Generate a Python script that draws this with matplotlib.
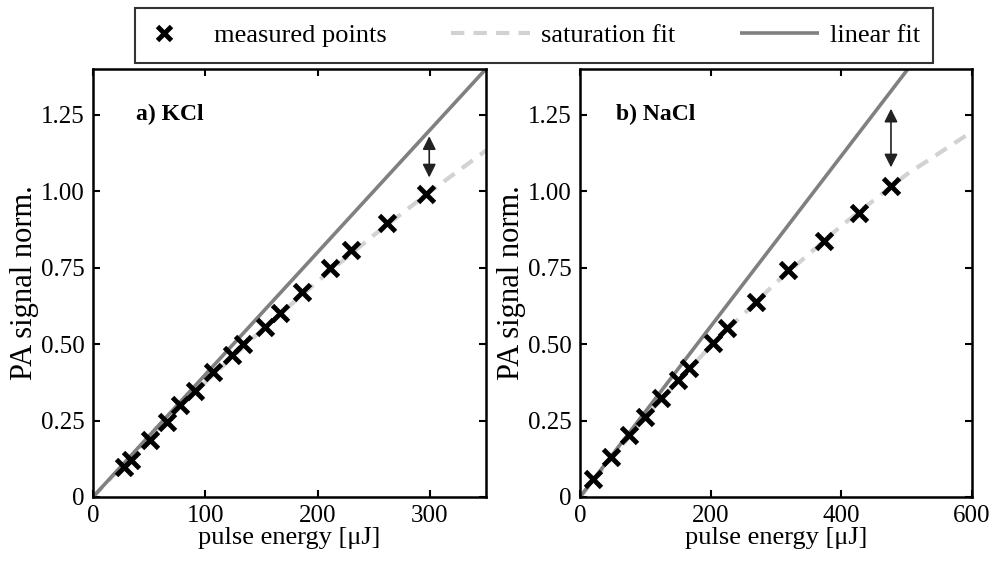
import numpy as np
import matplotlib
matplotlib.use('Agg')
import matplotlib.pyplot as plt
from matplotlib.patches import Rectangle

plt.rcParams['font.family'] = ['Liberation Serif', 'DejaVu Serif']

# KCl measured points
kcl_e = [27.7, 34.3, 50.7, 65.6, 77.5, 90.9, 107.2, 123.7, 134.0, 153.4, 166.2,
         186.2, 211.5, 229.4, 262.2, 297.0]
kcl_s = [0.098, 0.120, 0.186, 0.246, 0.300, 0.348, 0.410, 0.465, 0.500, 0.557, 0.601,
         0.669, 0.749, 0.807, 0.896, 0.991]
# KCl fits
kcl_lin_e = [0, 350]
kcl_lin_s = [0, 1.40]
kcl_sat_e = [0, 50, 100, 150, 200, 250, 300, 350]
kcl_sat_s = [0, 0.194, 0.375, 0.545, 0.705, 0.856, 0.998, 1.133]
kcl_arrow = (299.5, 1.18, 1.045)

# NaCl measured points
nacl_e = [19.3, 47.5, 75.6, 100.1, 124.1, 149.6, 167.5, 203.3, 225.3, 270.0,
          318.1, 372.9, 426.6, 476.2]
nacl_s = [0.060, 0.131, 0.202, 0.262, 0.323, 0.383, 0.421, 0.505, 0.552, 0.637,
          0.743, 0.836, 0.929, 1.016]
# NaCl fits
nacl_lin_e = [0, 502]
nacl_lin_s = [0, 1.40]
nacl_sat_e = [0, 100, 200, 300, 400, 500, 600]
nacl_sat_s = [0, 0.262, 0.494, 0.701, 0.887, 1.055, 1.195]
nacl_arrow = (476.0, 1.27, 1.078)

yticks = [0, 0.25, 0.5, 0.75, 1.0, 1.25]
yticklabels = ['0', '0.25', '0.50', '0.75', '1.00', '1.25']

fig = plt.figure(figsize=(10.04, 5.62), dpi=100)
ax1 = fig.add_axes([0.0926, 0.1157, 0.3914, 0.7616])
ax2 = fig.add_axes([0.5777, 0.1157, 0.3904, 0.7616])


def panel(ax, e, s, lin_e, lin_s, sat_e, sat_s, arrow, xmax, xticks, label, lx):
    ax.plot(lin_e, lin_s, color='#808080', lw=2.6, solid_capstyle='butt', zorder=2,
            label='linear fit')
    sat, = ax.plot(sat_e, sat_s, color='#d2d2d2', lw=3.0, zorder=1, label='saturation fit')
    sat.set_dashes((3.2, 2.2))
    ax.plot(e, s, 'x', color='black', ms=12, mew=3.5, zorder=3, label='measured points')
    ax.annotate('', xy=(arrow[0], arrow[2]), xytext=(arrow[0], arrow[1]),
                arrowprops=dict(arrowstyle='<|-|>', color='#222222', lw=1.2,
                                mutation_scale=20, shrinkA=0, shrinkB=0))
    ax.text(lx, 1.25, label, fontsize=17, fontweight='bold', va='center')
    ax.set_xlim(0, xmax)
    ax.set_ylim(0, 1.4)
    ax.set_xticks(xticks)
    ax.set_yticks(yticks)
    ax.set_yticklabels(yticklabels)
    ax.tick_params(direction='in', length=5, width=1.5, top=True, right=True,
                   labelsize=18, pad=6)
    for sp in ax.spines.values():
        sp.set_linewidth(1.8)
    ax.set_xlabel('pulse energy [\u03bcJ]', fontsize=19, labelpad=0)
    ax.set_ylabel('PA signal norm.', fontsize=22)
    ax.yaxis.set_label_coords(-0.138, 0.5)


panel(ax1, kcl_e, kcl_s, kcl_lin_e, kcl_lin_s, kcl_sat_e, kcl_sat_s, kcl_arrow,
      350, [0, 100, 200, 300], 'a) KCl', 38)
panel(ax2, nacl_e, nacl_s, nacl_lin_e, nacl_lin_s, nacl_sat_e, nacl_sat_s, nacl_arrow,
      600, [0, 200, 400, 600], 'b) NaCl', 55)

# legend: frame drawn separately so the entries can run close to its left edge
fig.add_artist(Rectangle((135 / 1004, 1 - 63 / 562), 798 / 1004, 55 / 562,
                         transform=fig.transFigure, fill=False,
                         edgecolor='#333333', lw=1.5))
h, l = ax1.get_legend_handles_labels()
order = [2, 1, 0]
leg = fig.legend([h[i] for i in order], [l[i] for i in order], ncol=3,
                 loc='center', bbox_to_anchor=(124 / 1004, 0.9168, 796 / 1004, 0.04),
                 mode='expand', fontsize=19, frameon=False,
                 handlelength=3.0, handletextpad=0.4, borderaxespad=0, borderpad=0,
                 numpoints=1)
leg.legend_handles[0].set_markersize(10)

fig.savefig('out.png', dpi=100)
